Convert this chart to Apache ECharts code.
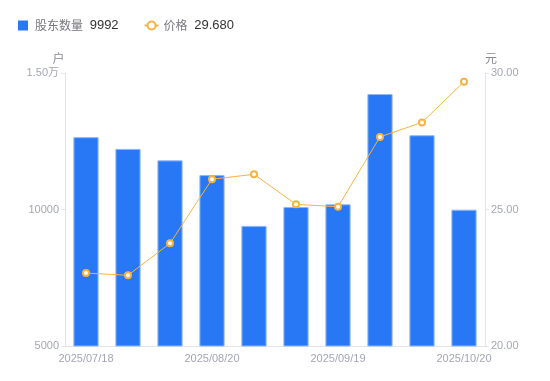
<!DOCTYPE html>
<html>
<head>
<meta charset="utf-8">
<script src="https://cdn.jsdelivr.net/npm/echarts@6/dist/echarts.min.js"></script>
<style>
html, body { margin: 0; padding: 0; background: #fff; }
#chart { width: 550px; height: 381px; }
</style>
</head>
<body>
<div id="chart"></div>
<script>
// dates of the holder-count reports
var dates = ['2025/07/18', '2025/07/31', '2025/08/10', '2025/08/20', '2025/08/31',
             '2025/09/10', '2025/09/19', '2025/09/30', '2025/10/10', '2025/10/20'];
// number of shareholders (户)
var holders = [12650, 12220, 11800, 11260, 9400, 10090, 10190, 14230, 12720, 9992];
// share price (元)
var prices = [22.67, 22.59, 23.76, 26.11, 26.29, 25.19, 25.10, 27.66, 28.19, 29.68];

var labelColor = '#a3a6b4';
var axisLineColor = '#e4e4e8';

var chart = echarts.init(document.getElementById('chart'));
chart.setOption({
    animation: false,
    textStyle: { fontFamily: 'Liberation Sans, "Noto Sans CJK SC", sans-serif' },
    legend: {
        left: 13,
        top: 14,
        itemGap: 25,
        itemWidth: 14,
        itemHeight: 10,
        symbolKeepAspect: true,
        formatter: function (name) {
            var v = name === '股东数量' ? holders[holders.length - 1] : prices[prices.length - 1].toFixed(3);
            return '{n|' + name + '}  {v|' + v + '}';
        },
        textStyle: {
            rich: {
                n: { color: '#77787f', fontSize: 12, fontFamily: '"Noto Sans CJK SC", sans-serif' },
                v: { color: '#333333', fontSize: 13 }
            }
        },
        data: [
            { name: '股东数量', icon: 'path://M0,0h10v10h-10z', itemStyle: { borderWidth: 0 } },
            { name: '价格' }
        ]
    },
    grid: { left: 65, right: 65, top: 73, bottom: 35 },
    xAxis: {
        type: 'category',
        data: dates,
        axisLine: { lineStyle: { color: axisLineColor } },
        axisTick: { show: false },
        axisLabel: { color: labelColor, fontSize: 11, interval: 2, margin: 7 }
    },
    yAxis: [{
        type: 'value',
        name: '户',
        nameGap: 7,
        nameTextStyle: { color: '#8a8b93', fontSize: 12, padding: [0, 13, 0, 0] },
        min: 5000,
        max: 15000,
        interval: 5000,
        axisLine: { show: true, lineStyle: { color: axisLineColor } },
        axisTick: { show: true, length: 4, lineStyle: { color: axisLineColor } },
        splitLine: { show: false },
        axisLabel: {
            color: labelColor, fontSize: 11, margin: 6,
            formatter: function (v) { return v > 10000 ? (v / 10000).toFixed(2) + '万' : v; }
        }
    }, {
        type: 'value',
        name: '元',
        nameGap: 7,
        nameTextStyle: { color: '#8a8b93', fontSize: 12, padding: [0, 0, 0, 12] },
        min: 20,
        max: 30,
        interval: 5,
        axisLine: { show: true, lineStyle: { color: axisLineColor } },
        axisTick: { show: true, length: 4, lineStyle: { color: axisLineColor } },
        splitLine: { show: false },
        axisLabel: {
            color: labelColor, fontSize: 11, margin: 6,
            formatter: function (v) { return v.toFixed(2); }
        }
    }],
    series: [{
        name: '股东数量',
        type: 'bar',
        data: holders,
        barWidth: '60%',
        itemStyle: { color: '#2878f5', borderColor: '#8fb7f7', borderWidth: 1 }
    }, {
        name: '价格',
        type: 'line',
        yAxisIndex: 1,
        data: prices,
        symbol: 'emptyCircle',
        symbolSize: 6,
        lineStyle: { color: '#f7b342', width: 1 },
        itemStyle: { color: '#f7b342', borderWidth: 2 }
    }]
});
</script>
</body>
</html>
